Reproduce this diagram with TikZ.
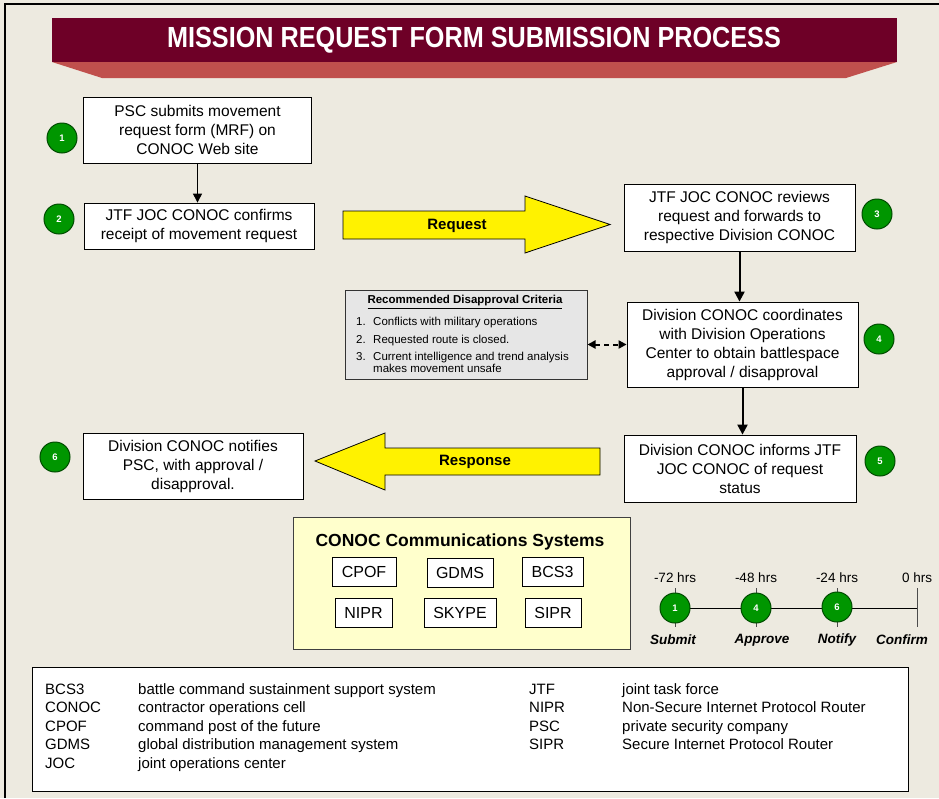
\documentclass[tikz,border=0pt]{standalone}
\usepackage{fontspec}
\setmainfont{Liberation Sans}
\usetikzlibrary{arrows.meta}

\definecolor{paper}{HTML}{EDEAE0}
\definecolor{titlered}{HTML}{6E0027}
\definecolor{titlepink}{HTML}{C0504D}
\definecolor{stepgreen}{HTML}{009600}
\definecolor{critgray}{HTML}{E6E6E6}
\definecolor{syscream}{HTML}{FFFFCC}

\tikzset{
  stepbox/.style={draw, fill=white, line width=0.8, align=center, inner sep=0,
    font=\fontsize{15.5}{19}\selectfont},
  num/.style={circle, draw=black!70!green, fill=stepgreen, line width=1,
    minimum size=30, inner sep=0, text=white, font=\fontsize{9.5}{9.5}\selectfont\bfseries},
  sysbox/.style={draw, fill=white, line width=0.8, minimum height=29, inner sep=0,
    font=\fontsize{16}{16}\selectfont},
  flow/.style={-{Triangle[length=9,width=9]}, line width=1},
  bigflow/.style={-{Triangle[length=10,width=10]}, line width=2},
  crittext/.style={anchor=base west, inner sep=0, font=\fontsize{11.5}{12.5}\selectfont},
  leg/.style={anchor=base west, inner sep=0, font=\fontsize{15}{15}\selectfont},
  hrs/.style={inner sep=0, font=\fontsize{13.5}{13.5}\selectfont},
  mile/.style={inner sep=0, font=\fontsize{13.5}{13.5}\selectfont\bfseries\itshape},
}

\begin{document}
\begin{tikzpicture}[x=1pt, y=-1pt]
  \fill[paper] (0,0) rectangle (939,798);
  \useasboundingbox (0,0) rectangle (939,798);
  \draw[line width=1.5] (5,798) -- (5,4) -- (939,4);

  % title banner
  \fill[titlered] (52,18) rectangle (897,62);
  \fill[titlepink] (52,62) -- (897,62) -- (846,78) -- (102,78) -- cycle;
  \node[text=white, font=\fontsize{26}{26}\selectfont\bfseries] (title) at (474,40)
    {\scalebox{0.97}[1.12]{MISSION REQUEST FORM SUBMISSION PROCESS}};

  % steps
  \node[stepbox, minimum width=228, minimum height=66] (b1) at (197.5,130)
    {PSC submits movement\\request form (MRF) on\\CONOC Web site};
  \node[stepbox, minimum width=230, minimum height=46] (b2) at (199,226)
    {JTF JOC CONOC confirms\\receipt of movement request};
  \node[stepbox, minimum width=231, minimum height=67] (b3) at (739.5,217.5)
    {JTF JOC CONOC reviews\\request and forwards to\\respective Division CONOC};
  \node[stepbox, minimum width=231, minimum height=85] (b4) at (742.5,344.5)
    {Division CONOC coordinates\\with Division Operations\\Center to obtain battlespace\\approval / disapproval};
  \node[stepbox, minimum width=232, minimum height=67] (b5) at (740,468.5)
    {Division CONOC informs JTF\\JOC CONOC of request\\status};
  \node[stepbox, minimum width=220, minimum height=66] (b6) at (193,466)
    {Division CONOC notifies\\PSC, with approval /\\disapproval.};

  \node[num] (c1) at (62,138) {1};
  \node[num] (c2) at (59,219) {2};
  \node[num] (c3) at (877,214) {3};
  \node[num] (c4) at (879,339) {4};
  \node[num] (c5) at (880,461) {5};
  \node[num] (c6) at (55,457) {6};

  \draw[flow] (b1.south) -- (b1.south |- b2.north);
  \draw[bigflow] (b3.south) -- (b3.south |- b4.north);
  \draw[bigflow] (b4.south) -- (b4.south |- b5.north);

  % request / response arrows
  \draw[fill=yellow, line width=0.8] (343,211) -- (525,211) -- (525,196) -- (610,224.5)
    -- (525,253) -- (525,239) -- (343,239) -- cycle;
  \node[font=\fontsize{15}{15}\selectfont\bfseries] (req) at (457,226) {Request};
  \draw[fill=yellow, line width=0.8] (600,448) -- (385,448) -- (385,433) -- (315,461)
    -- (385,490) -- (385,475) -- (600,475) -- cycle;
  \node[font=\fontsize{15}{15}\selectfont\bfseries] (resp) at (475,462) {Response};

  % disapproval criteria
  \node[draw=black!80, fill=critgray, line width=1, minimum width=242, minimum height=89]
    (crit) at (466,334.5) {};
  \node[inner sep=0, font=\fontsize{11.5}{11.5}\selectfont\bfseries] (crittitle) at (465,302)
    {\underline{Recommended Disapproval Criteria}};
  \foreach \n/\y/\t in {1/325/Conflicts with  military operations,
                        2/343/Requested route is closed.,
                        3/360/Current intelligence and trend analysis}{
    \node[crittext] (cn\n) at (356,\y) {\n.};
    \node[crittext] (ct\n) at (373,\y) {\t};
  }
  \node[crittext] (ct4) at (373,372) {makes movement unsafe};
  \draw[{Triangle[length=8,width=8]}-{Triangle[length=8,width=8]},
    dash pattern=on 5 off 4, line width=2]
    (crit.east |- b4.west) -- (b4.west);

  % communications systems
  \node[draw=black!75, fill=syscream, line width=1, minimum width=337, minimum height=132]
    (sys) at (461.5,583) {};
  \node[inner sep=0, font=\fontsize{17.5}{17.5}\selectfont\bfseries] (systitle) at (460,542)
    {CONOC Communications Systems};
  \foreach \s/\x/\y/\w in {CPOF/364/571.5/64, GDMS/460/572.5/66, BCS3/552.5/571.5/61,
                           NIPR/363.5/612.5/57, SKYPE/460/612.5/72, SIPR/553/612.5/56}
    \node[sysbox, minimum width=\w] (\s) at (\x,\y) {\s};

  % timeline
  \coordinate (tstart) at (675,608);
  \coordinate (tend) at (917,608);
  \draw[line width=1] (tstart) -- (tend);
  \foreach \x/\h/\k in {675/-72 hrs/1, 756/-48 hrs/4, 837/-24 hrs/6, 917/0 hrs/7}{
    \draw[black!70, line width=1] (\x,588) -- (\x,627);
    \node[hrs] (h\k) at (\x,578) {\h};
  }
  \node[mile] (s1) at (673,640) {Submit};
  \node[mile] (s4) at (762,640) {Approve};
  \node[mile] (s6) at (837,640) {Notify};
  \node[mile] (s7) at (902,640) {Confirm};
  \node[num] (m1) at (675,608) {1};
  \node[num] (m4) at (756,608) {4};
  \node[num] (m6) at (837,607) {6};

  % glossary
  \node[draw, fill=white, line width=1, minimum width=876, minimum height=124]
    (gloss) at (470,729) {};
  \foreach \a/\d/\y in {BCS3/battle command sustainment support system/694,
                        CONOC/contractor operations cell/712,
                        CPOF/command post of the future/731,
                        GDMS/global distribution management system/749,
                        JOC/joint operations center/768}{
    \node[leg] (ga\a) at (45,\y) {\a};
    \node[leg] (gd\a) at (138,\y) {\d};
  }
  \foreach \a/\d/\y in {JTF/joint task force/694,
                        NIPR/Non-Secure Internet Protocol Router/712,
                        PSC/private security company/731,
                        SIPR/Secure Internet Protocol Router/749}{
    \node[leg] (ga\a) at (529,\y) {\a};
    \node[leg] (gd\a) at (622,\y) {\d};
  }
\end{tikzpicture}
\end{document}
